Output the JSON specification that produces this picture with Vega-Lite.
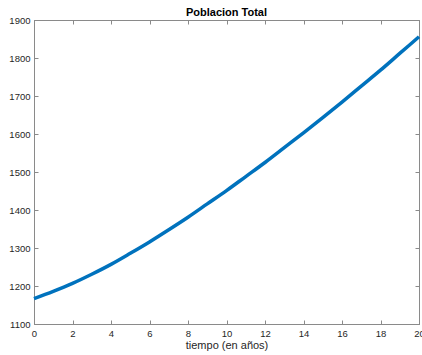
{
  "$schema": "https://vega.github.io/schema/vega-lite/v6.json",
  "width": 385,
  "height": 304,
  "autosize": {"type": "none"},
  "padding": {"left": 34, "top": 20, "right": 3, "bottom": 31},
  "background": "white",
  "title": {"text": "Poblacion Total", "font": "Liberation Sans", "fontSize": 11, "fontWeight": "bold", "color": "#000000", "offset": -3, "anchor": "middle"},
  "config": {
    "view": {"stroke": "#8a8a8a", "strokeWidth": 1},
    "axis": {"grid": false, "labelFont": "Liberation Sans", "labelFontSize": 9.5, "labelColor": "#262626", "titleFont": "Liberation Sans", "titleFontSize": 11, "titleFontWeight": "normal", "titleColor": "#262626", "domainColor": "#8a8a8a", "tickColor": "#8a8a8a", "tickSize": -4, "domainWidth": 1, "labelFlush": false, "labelOverlap": false}
  },
  "data": {"values": [
    {"t": 0, "p": 1167}, {"t": 1, "p": 1186}, {"t": 2, "p": 1207}, {"t": 3, "p": 1231},
    {"t": 4, "p": 1257}, {"t": 5, "p": 1286}, {"t": 6, "p": 1316}, {"t": 7, "p": 1348},
    {"t": 8, "p": 1381}, {"t": 9, "p": 1416}, {"t": 10, "p": 1451}, {"t": 11, "p": 1488},
    {"t": 12, "p": 1525}, {"t": 13, "p": 1564}, {"t": 14, "p": 1603}, {"t": 15, "p": 1643},
    {"t": 16, "p": 1684}, {"t": 17, "p": 1726}, {"t": 18, "p": 1768}, {"t": 19, "p": 1812},
    {"t": 20, "p": 1856}
  ]},
  "layer": [
    {
      "mark": {"type": "line", "color": "#0072BD", "strokeWidth": 3.5, "interpolate": "monotone"},
      "encoding": {
        "x": {"field": "t", "type": "quantitative", "scale": {"domain": [0, 20], "nice": false, "zero": false},
              "axis": {"title": "tiempo (en años)", "values": [0,2,4,6,8,10,12,14,16,18,20], "format": "d", "labelPadding": 8, "titlePadding": 2}},
        "y": {"field": "p", "type": "quantitative", "scale": {"domain": [1100, 1900], "nice": false, "zero": false},
              "axis": {"title": null, "values": [1100,1200,1300,1400,1500,1600,1700,1800,1900], "format": "d", "labelPadding": 8}}
      }
    },
    {
      "mark": {"type": "line", "opacity": 0},
      "encoding": {
        "x": {"field": "t", "type": "quantitative", "axis": {"orient": "top", "labels": false, "title": null, "values": [0,2,4,6,8,10,12,14,16,18,20]}},
        "y": {"field": "p", "type": "quantitative", "axis": {"orient": "right", "labels": false, "title": null, "values": [1100,1200,1300,1400,1500,1600,1700,1800,1900]}}
      }
    }
  ],
  "resolve": {"axis": {"x": "independent", "y": "independent"}}
}
